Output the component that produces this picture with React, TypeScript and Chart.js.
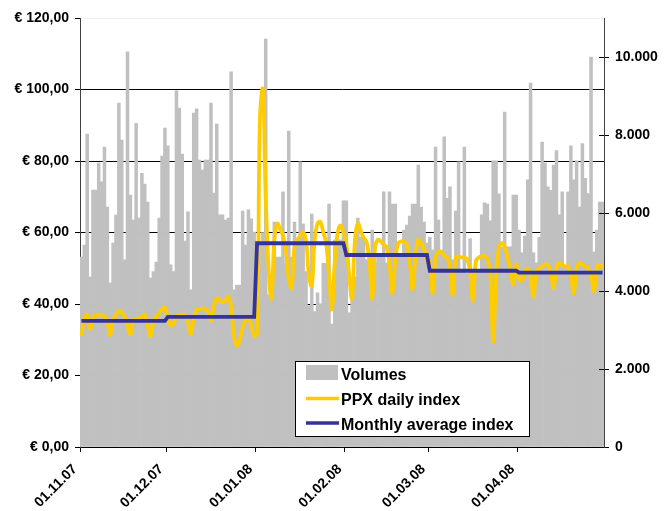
import React, { useEffect, useRef } from 'react';
import { Chart, registerables } from 'chart.js';

Chart.register(...registerables);

// ---- categories (months shown on the date axis) ----
const monthCodes = ['11.07', '12.07', '01.08', '02.08', '03.08', '04.08'];
const monthLengths = [30, 31, 31, 29, 31, 30];

// ---- daily traded volumes (right axis) ----
const volumesNov = [4870, 5180, 8025, 4360, 6590, 6590, 7280, 6800, 7690, 6150, 4200, 5230, 5950, 8820, 7870, 4800, 10130, 6460, 5820, 8300, 5870, 7020, 6740, 6280, 4330, 4500, 4740, 5870, 7460, 8180];
const volumesDec = [7720, 4670, 4500, 9130, 8690, 7510, 5280, 6030, 4030, 8560, 8670, 7360, 7100, 7360, 7360, 8820, 6510, 8280, 5950, 5950, 5820, 5870, 9620, 4030, 4150, 4150, 6050, 5180, 6080, 5850, 5510];
const volumesJan = [5000, 5200, 5500, 10460, 3900, 3800, 5770, 4870, 4870, 6540, 4710, 8100, 4870, 5770, 5300, 7310, 5720, 4500, 3620, 5970, 3470, 3950, 3670, 4710, 4710, 6230, 3150, 5310, 5310, 5310, 6310];
const volumesFeb = [6310, 3440, 4360, 4360, 5870, 5380, 5380, 4800, 4800, 5560, 4720, 4950, 4950, 6540, 4720, 6540, 6230, 6230, 4870, 4870, 5560, 5690, 5920, 6230, 6230, 7230, 6150, 5770, 5230];
const volumesMar = [5380, 5050, 7690, 5820, 5050, 7950, 6380, 6670, 4800, 6050, 7310, 4540, 7690, 4450, 5340, 4540, 4540, 4540, 5950, 6260, 6230, 5800, 7340, 7340, 6490, 5130, 8590, 5130, 5130, 6460, 6460];
const volumesApr = [5560, 4980, 5410, 6850, 9330, 4980, 4720, 5380, 7820, 7280, 6670, 6580, 7230, 7600, 5950, 6540, 4600, 6540, 7720, 6850, 7340, 6150, 7780, 6890, 6500, 10000, 5000, 5560, 6280, 6280];

// ---- PPX daily index (left axis, EUR) ----
const ppxNov = [31, 36, 37, 33, 36.3, 36.8, 37, 37, 36.5, 35, 31.3, 35.5, 37, 38.1, 37.5, 36.5, 34, 31.5, 35.5, 35.5, 36, 36.5, 37, 34, 31, 35, 36.5, 37.5, 38.5, 39];
const ppxDec = [36, 34, 34.5, 36.5, 37, 37, 36.8, 35, 31.5, 36, 38.3, 38.5, 38.7, 38.6, 38, 35.4, 39.5, 41.6, 41, 40.5, 41, 42, 39, 31, 28.3, 30, 33.5, 35.5, 36.5, 34, 31];
const ppxJan = [32, 92, 100, 70, 50, 41.5, 58, 62.5, 61, 59, 55, 47, 44.5, 56, 58, 59, 60, 58, 48, 45, 58, 62.5, 63, 60, 57, 48, 38.5, 52, 60, 62, 60];
const ppxFeb = [57, 48, 41.5, 58, 62.5, 60.5, 58.5, 57.5, 52, 41.5, 56, 58, 57.5, 56.5, 56, 51, 43, 52, 57, 57.5, 57.5, 56.5, 52, 44, 53, 58, 57, 55.5, 52];
const ppxMar = [52, 43, 53, 54.5, 54.5, 53.5, 53, 50, 42.5, 53, 53.3, 53, 53, 52.5, 49, 41, 52, 53, 53.3, 53.5, 52.5, 49, 29.5, 47, 56, 57, 56, 53, 50, 45.5, 51];
const ppxApr = [47, 46.5, 49, 50, 48, 42, 49, 50, 50.5, 51, 51, 49, 44.5, 50, 51.5, 51, 50.5, 50.5, 48, 43, 50, 51.5, 51, 50.5, 50, 48, 43.5, 50, 51, 50];

// ---- monthly average index (left axis, EUR) ----
const monthlyAverage = [35.3, 36.4, 57.0, 53.7, 49.3, 48.8];

// ---- tick values ----
const leftTickValues = [0, 20, 40, 60, 80, 100, 120];
const rightTickValues = [0, 2000, 4000, 6000, 8000, 10000];

const legendLabels = ['Volumes', 'PPX daily index', 'Monthly average index'];
const COLORS = { volume: '#C0C0C0', ppx: '#FFCC00', avg: '#333399' };

const volumes = [...volumesNov, ...volumesDec, ...volumesJan, ...volumesFeb, ...volumesMar, ...volumesApr];
const ppx = [...ppxNov, ...ppxDec, ...ppxJan, ...ppxFeb, ...ppxMar, ...ppxApr];

const dayLabels: string[] = [];
const monthStartIndex: number[] = [];
const avgDaily: number[] = [];
monthCodes.forEach((m, i) => {
  monthStartIndex.push(dayLabels.length);
  for (let d = 1; d <= monthLengths[i]; d++) {
    dayLabels.push(`${String(d).padStart(2, '0')}.${m}`);
    avgDaily.push(monthlyAverage[i]);
  }
});
const totalDays = dayLabels.length;

const FONT_FAMILY = 'Arial, "Liberation Sans", Helvetica, sans-serif';
const tickFont = { family: FONT_FAMILY, size: 14, weight: 'bold' as const };

const fmtEuro = (v: number) => '€ ' + v.toFixed(2).replace('.', ',');
const fmtThousands = (v: number) => String(v).replace(/\B(?=(\d{3})+(?!\d))/g, '.');

const overlayPlugin = {
  id: 'overlay',
  afterDatasetsDraw(chart: any) {
    const { ctx, chartArea } = chart;
    const y1 = chart.scales.y1;
    ctx.save();
    ctx.strokeStyle = '#000';
    ctx.lineWidth = 1;
    rightTickValues.forEach((v) => {
      const py = Math.round(y1.getPixelForValue(v)) + 0.5;
      ctx.beginPath();
      ctx.moveTo(chartArea.right - 5, py);
      ctx.lineTo(chartArea.right, py);
      ctx.stroke();
    });
    ctx.restore();
  },
  afterDraw(chart: any) {
    const { ctx, chartArea } = chart;
    const bx = chartArea.left + 215;
    const by = chartArea.top + 343;
    const bw = 234;
    const bh = 75;
    ctx.save();
    ctx.fillStyle = '#fff';
    ctx.fillRect(bx, by, bw, bh);
    ctx.strokeStyle = '#000';
    ctx.lineWidth = 1;
    ctx.strokeRect(bx + 0.5, by + 0.5, bw, bh);

    // Volumes swatch
    ctx.fillStyle = COLORS.volume;
    ctx.fillRect(bx + 11, by + 4, 32, 15);
    // PPX line
    ctx.strokeStyle = COLORS.ppx;
    ctx.lineWidth = 3.5;
    ctx.beginPath();
    ctx.moveTo(bx + 11, by + 37.5);
    ctx.lineTo(bx + 44, by + 37.5);
    ctx.stroke();
    // Avg line
    ctx.strokeStyle = COLORS.avg;
    ctx.lineWidth = 3.5;
    ctx.beginPath();
    ctx.moveTo(bx + 11, by + 62);
    ctx.lineTo(bx + 44, by + 62);
    ctx.stroke();

    ctx.fillStyle = '#000';
    ctx.font = `bold 16px ${FONT_FAMILY}`;
    ctx.textAlign = 'left';
    ctx.textBaseline = 'alphabetic';
    ctx.fillText(legendLabels[0], bx + 46, by + 19);
    ctx.fillText(legendLabels[1], bx + 46, by + 44);
    ctx.fillText(legendLabels[2], bx + 46, by + 69);
    ctx.restore();
  },
};

export default function App() {
  const canvasRef = useRef<HTMLCanvasElement | null>(null);

  useEffect(() => {
    const canvas = canvasRef.current;
    if (!canvas) return;
    const chart = new Chart(canvas, {
      type: 'bar',
      data: {
        datasets: [
          {
            type: 'line',
            label: legendLabels[2],
            data: avgDaily.map((v, i) => ({ x: i + 0.5, y: v })),
            yAxisID: 'y',
            borderColor: COLORS.avg,
            borderWidth: 3.8,
            pointRadius: 0,
            tension: 0,
            order: 1,
          },
          {
            type: 'line',
            label: legendLabels[1],
            data: ppx.map((v, i) => ({ x: i + 0.5, y: v })),
            yAxisID: 'y',
            borderColor: COLORS.ppx,
            borderWidth: 3.8,
            pointRadius: 0,
            tension: 0.4,
            borderJoinStyle: 'round',
            order: 2,
          },
          {
            type: 'bar',
            label: legendLabels[0],
            data: volumes.map((v, i) => ({ x: i + 0.5, y: v })),
            yAxisID: 'y1',
            backgroundColor: COLORS.volume,
            barPercentage: 1,
            categoryPercentage: 1,
            order: 3,
          },
        ] as any,
      },
      options: {
        animation: false,
        responsive: false,
        devicePixelRatio: 1,
        layout: { padding: { top: 18, left: 0, right: 0, bottom: 0 } },
        plugins: { legend: { display: false }, tooltip: { enabled: false } },
        scales: {
          x: {
            type: 'linear',
            min: 0,
            max: totalDays,
            offset: false,
            afterBuildTicks: (s: any) => {
              s.ticks = monthStartIndex.map((v) => ({ value: v }));
            },
            afterFit: (s: any) => {
              s.height = 64;
            },
            grid: { offset: false, drawOnChartArea: false, drawTicks: true, tickLength: 5, color: '#000' },
            border: { color: '#000', width: 1 },
            ticks: {
              autoSkip: false,
              minRotation: 45,
              maxRotation: 45,
              padding: 9,
              labelOffset: -5,
              color: '#000',
              font: tickFont,
              callback: (v: any) => dayLabels[v] ?? '',
            },
          },
          y: {
            position: 'left',
            min: 0,
            max: 120,
            afterBuildTicks: (s: any) => {
              s.ticks = leftTickValues.map((v) => ({ value: v }));
            },
            afterFit: (s: any) => {
              s.width = 80;
            },
            grid: {
              color: (c: any) => (c.tick && c.tick.value === 120 ? '#eeeeee' : '#000'),
              tickColor: '#000',
              tickLength: 5,
            },
            border: { color: '#404040', width: 1 },
            ticks: {
              padding: 6,
              color: '#000',
              font: tickFont,
              callback: (v: any) => fmtEuro(Number(v)),
            },
          },
          y1: {
            position: 'right',
            min: 0,
            max: 11000,
            afterBuildTicks: (s: any) => {
              s.ticks = rightTickValues.map((v) => ({ value: v }));
            },
            afterFit: (s: any) => {
              s.width = 64;
            },
            grid: { drawOnChartArea: false, tickLength: 5, color: '#000' },
            border: { color: '#404040', width: 1 },
            ticks: {
              padding: 6,
              color: '#000',
              font: tickFont,
              callback: (v: any) => fmtThousands(Number(v)),
            },
          },
        },
      } as any,
      plugins: [overlayPlugin],
    });
    return () => chart.destroy();
  }, []);

  return (
    <div style={{ position: 'fixed', left: 0, top: 0, width: 668, height: 511, background: '#fff' }}>
      <canvas ref={canvasRef} width={668} height={511} style={{ display: 'block' }} />
    </div>
  );
}
